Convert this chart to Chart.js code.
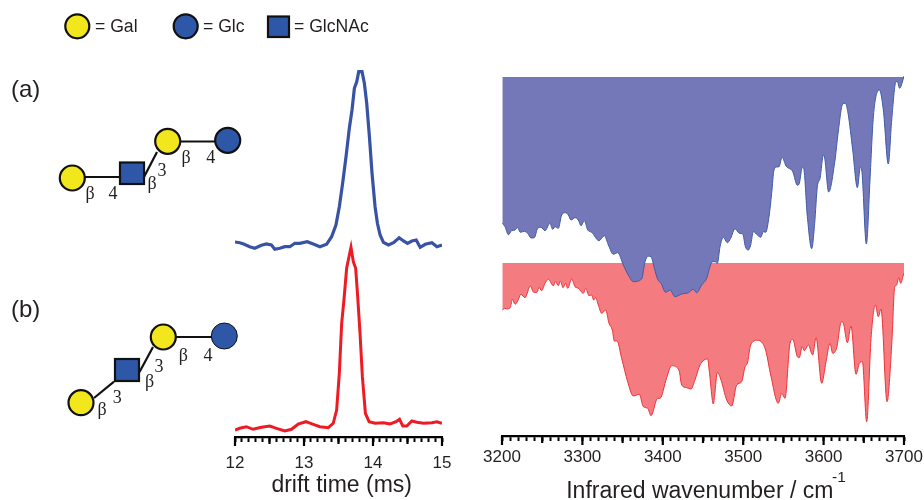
<!DOCTYPE html>
<html><head><meta charset="utf-8">
<script src="https://cdn.jsdelivr.net/npm/chart.js@4"></script>
<style>
html,body{margin:0;padding:0;background:#fff;width:924px;height:500px;overflow:hidden}
#wrap{position:relative;width:924px;height:500px;overflow:hidden;font-family:"Liberation Sans",Arial,sans-serif;color:#231f20}
#driftBox{position:absolute;left:175px;top:0;width:327px;height:520px}
#irBox{position:absolute;left:452px;top:0;width:520px;height:520px}
svg{position:absolute;left:0;top:0}
.sup{position:absolute;left:832px;top:467px;font-size:15.5px;line-height:20px}
</style></head><body>
<div id="wrap">
<div id="driftBox"><canvas id="drift"></canvas></div>
<div id="irBox"><canvas id="ir"></canvas></div>
<div class="sup">-1</div>
<svg width="924" height="500" font-family="Liberation Sans, Arial, sans-serif" fill="#231f20">
<g stroke="#111" stroke-width="2.2">
<line x1="85" y1="177" x2="119" y2="177"/><line x1="144" y1="177" x2="157" y2="152"/><line x1="181" y1="141.5" x2="215" y2="141.5"/>
<line x1="176" y1="337" x2="212" y2="337"/><line x1="139.5" y1="372" x2="153" y2="347"/><line x1="94" y1="398" x2="114" y2="381.7"/>
</g>
<g stroke="#111" stroke-width="2.2">
<circle cx="77.3" cy="26.3" r="12" fill="#f2e71c"/><circle cx="185.7" cy="26.3" r="12" fill="#2f57a8"/><rect x="268" y="16.5" width="21" height="20.5" fill="#2f57a8"/>
<circle cx="72.3" cy="178" r="12.5" fill="#f2e71c"/><rect x="120" y="162.5" width="24" height="21.5" fill="#2f57a8"/><circle cx="167.7" cy="141.3" r="12.5" fill="#f2e71c"/><circle cx="227.7" cy="140.3" r="12.5" fill="#2f57a8"/>
<circle cx="163.3" cy="337" r="12.5" fill="#f2e71c"/><rect x="115" y="359" width="24" height="22" fill="#2f57a8"/><circle cx="81" cy="402.7" r="12.5" fill="#f2e71c"/>
<circle cx="224.3" cy="336" r="13" fill="#2f57a8" stroke-width="1"/>
</g>
<g font-size="17.6" dominant-baseline="central">
<text x="95" y="26">= Gal</text><text x="203" y="26">= Glc</text><text x="294" y="26">= GlcNAc</text>
</g>
<g font-size="24" dominant-baseline="central">
<text x="11" y="88">(a)</text><text x="11" y="308">(b)</text>
</g>
<g font-family="Liberation Serif, Times New Roman, serif" font-size="18" text-anchor="middle" dominant-baseline="central">
<text x="90" y="193">β</text><text x="113" y="193">4</text><text x="152" y="183">β</text><text x="162" y="170">3</text><text x="186" y="157">β</text><text x="210.7" y="157">4</text>
<text x="102" y="409">β</text><text x="117.3" y="397.3">3</text><text x="149.7" y="380.7">β</text><text x="159" y="365.7">3</text><text x="183.3" y="355">β</text><text x="208" y="355">4</text>
</g>
</svg>
</div>
<script>
// Drift-time traces (ms, arbitrary offset intensity)
const driftBlueT=[12,12.068,12.126,12.213,12.286,12.383,12.455,12.528,12.577,12.649,12.722,12.795,12.867,12.94,13.047,13.134,13.231,13.328,13.4,13.463,13.512,13.56,13.609,13.657,13.696,13.73,13.764,13.793,13.841,13.875,13.909,13.948,13.986,14.03,14.064,14.103,14.151,14.224,14.297,14.379,14.442,14.5,14.563,14.626,14.684,14.757,14.854,14.926,15];
const driftBlueI=[195,194.3,193,190.3,188.7,191.7,193,192,187.7,188.7,190.3,190.3,193.7,193.7,195.3,193,190.3,192.7,200.3,212,230.3,253.7,280.3,308.7,327,348.7,355.3,365.3,365.3,353.7,333.7,300.3,263.7,230.3,213.7,202,194.7,192,194.3,199.3,196,193.7,196,197,189.7,192.7,194.3,190.3,192];
const driftRedT=[12,12.068,12.165,12.262,12.383,12.504,12.601,12.722,12.819,12.916,13.027,13.134,13.231,13.352,13.424,13.473,13.512,13.546,13.579,13.618,13.657,13.681,13.715,13.749,13.778,13.812,13.846,13.89,13.943,14.03,14.151,14.248,14.335,14.384,14.432,14.49,14.563,14.636,14.733,14.854,14.926,15];
const driftRedI=[7,8.7,10.3,7.7,9.7,11,8.7,6,7.7,13,15.3,12.7,10.3,9.3,13.7,27,63.7,113.7,137,168.7,182,189.7,175.3,168.7,140.3,103.7,60.3,23.7,15.3,13.7,14.3,13,15.3,17.7,11,11,16,14.7,13.7,14.3,15.3,13.7];
// Infrared spectra (cm-1, arbitrary offset intensity)
const irBlueW=[3200.4,3203.7,3207.9,3212,3216.2,3219.5,3222.8,3227.8,3231.9,3236.1,3240.2,3244.4,3248.5,3253.5,3259.7,3263,3265.9,3270.1,3274.2,3279.2,3282.5,3285.8,3290.8,3294.9,3298.3,3302.4,3306.6,3311.5,3320.6,3327.3,3332.3,3338.5,3343.9,3350.9,3357.1,3363.3,3373.7,3377.9,3382,3385.3,3389.5,3393.6,3397.8,3403.6,3409,3415.2,3423.5,3431.8,3438,3442.1,3448.3,3454.6,3458.7,3462,3465,3467.9,3471.2,3475.3,3480.3,3484.4,3489.8,3495.2,3499.4,3502.7,3506.4,3509.3,3512.6,3517.6,3521.8,3525.1,3528,3532.1,3535.4,3538.3,3541.7,3544.6,3548.3,3553.3,3561.6,3567.4,3569.8,3573.6,3575.2,3579.8,3585.2,3588.9,3592.2,3595.6,3599.7,3601.4,3606.3,3614.2,3618,3623.8,3627.1,3630.4,3636.2,3642,3645.7,3647.4,3653.2,3657.7,3661.9,3669.4,3674.3,3680.5,3684.7,3690.1,3691.7,3694.6,3697.5,3700];
const irBlueI=[212.7,209.3,201.3,205.3,206,208.3,203.7,204.7,202.7,198,198.3,207.7,208.7,205.3,212.7,206.7,209.3,207.7,221,223.3,221,216,218.3,216,210.3,215.3,206,203.7,195.3,200.3,191,181.7,183.3,171,161,154.3,157,174.3,179.7,179.3,167.7,156.7,152.7,143.7,146,139.3,142,143.3,146.7,143.3,151,157.7,169.3,174.3,174.3,172.7,189.3,198.7,193.3,197.7,207.3,202.7,202,189.3,186,191,204.3,201,198.7,204.3,203.7,219.3,242.7,266,269,269.3,278.7,270,264.3,250.7,252.7,268.7,267.7,219.3,187.3,212.7,249.3,257.7,281,277.7,244,276,302.7,332,332.7,322.7,286,248.3,268.7,266,192,256,319.3,346,326,272,316,354.3,354.3,347.7,352.7,360];
const irRedW=[3200.4,3203.7,3207,3210.4,3212.9,3216.2,3219.5,3223.6,3228.6,3235.2,3239.4,3243.5,3246,3249.3,3253.5,3257.6,3263.8,3266.7,3270.1,3272.6,3275.9,3279.2,3281.7,3286.7,3290.8,3294.9,3301.2,3304.1,3308.2,3311.5,3314,3316.5,3319.8,3324,3328.9,3333.1,3337.2,3339.7,3343,3348.8,3356.3,3363.3,3370.8,3375.8,3381.2,3385.3,3393.6,3396.5,3404.8,3411,3420.1,3423.5,3429.7,3435.1,3440,3446.3,3455.8,3457.9,3462.9,3464.5,3467.9,3472,3479.5,3485.7,3491.9,3498.1,3502.3,3505.2,3509.3,3517.6,3524.2,3528.4,3534.2,3543.7,3547.9,3552,3558.2,3561.6,3567.4,3569.8,3573.2,3576.1,3581,3586.4,3590.6,3597.6,3603,3608,3611.3,3616.3,3622.1,3624.6,3629.6,3634.1,3640.3,3644.5,3648.2,3653.6,3659,3664.4,3668.1,3671.4,3678.9,3684.7,3688.4,3690.9,3693.4,3695.9,3699.2,3700];
const irRedI=[126,127.7,127,128.7,136.7,131.7,135,141.7,138.3,150,143.7,143.7,148.7,145.3,152.7,156.7,150.3,154.3,150.3,155,148.3,152.7,147.7,157,149.3,147.7,142.7,147.7,140.3,141,136,138.3,131,122.7,126,112.7,106,95,95,77.7,54.3,40,41.7,29.3,27.7,20.3,37.7,37.7,58.3,70.3,66,51,48.3,47,56,71,77,64.3,32,41,63.7,57,36,30,51,54.3,69.3,72.7,91,95.7,92.7,84.3,61,32.7,42.7,37.7,92.7,96.7,79.3,78.3,89.3,85.3,91,81,98.3,52.7,74.3,92.7,82.7,88.3,114.3,112.7,93.3,110,61.7,72.7,74.3,14.3,97.7,131,119.3,127,34.3,91,148.7,151,158.3,152.7,161,162.7];
const irBlueTop=359, irRedTop=173;
const driftMajor=[12,13,14,15], driftMedium=[12.5,13.5,14.5];
const irMajor=[3200,3300,3400,3500,3600,3700], irMedium=[3250,3350,3450,3550,3650];
const pts=(xs,ys)=>xs.map((x,i)=>({x,y:ys[i]}));
const longTicks={id:'longTicks',afterDraw(c,a,o){
  const s=c.scales.x,g=c.ctx,base=s.top;
  g.save();g.strokeStyle='#000';g.lineWidth=2.2;
  const draw=(arr,len)=>arr.forEach(v=>{const p=s.getPixelForValue(v);g.beginPath();g.moveTo(p,base);g.lineTo(p,base+len);g.stroke();});
  draw(o.major,o.majorLen);draw(o.medium,o.mediumLen);g.restore();
}};
function xAxis(min,max,step,label,fn,pad,titleSize,titlePad,h){
  return {type:'linear',min,max,afterFit(s){s.height=h;},
    border:{display:true,color:'#000',width:2.2},
    grid:{drawOnChartArea:false,drawTicks:true,tickLength:5,tickColor:'#000',tickWidth:2},
    ticks:{stepSize:step,autoSkip:false,maxRotation:0,minRotation:0,padding:pad,color:'#231f20',font:{family:'"Liberation Sans",Arial,sans-serif',size:17},callback:fn},
    title:{display:true,text:label,color:'#231f20',font:{family:'"Liberation Sans",Arial,sans-serif',size:titleSize},padding:{top:0,bottom:titlePad}}};
}
const base=(padL,padR,ymax,x,major,medium)=>({responsive:true,maintainAspectRatio:false,animation:false,events:[],
  layout:{padding:{left:padL,right:padR,top:0,bottom:0}},
  plugins:{legend:{display:false},tooltip:{enabled:false},longTicks:{major,medium,majorLen:9,mediumLen:7}},
  elements:{point:{radius:0}},
  scales:{x,y:{display:false,min:0,max:ymax}}});
new Chart(document.getElementById('drift'),{type:'line',plugins:[longTicks],
  data:{datasets:[
    {label:'a',data:pts(driftBlueT,driftBlueI),borderColor:'#3953a4',borderWidth:3.2,tension:0,fill:false},
    {label:'b',data:pts(driftRedT,driftRedI),borderColor:'#ed1c24',borderWidth:3,tension:0,fill:false}]},
  options:base(60,60,437,xAxis(12,15,0.1,'\u00a0drift time (ms)',v=>Math.abs(v-Math.round(v))<1e-6?String(Math.round(v)):'',11,23,20.5,83),driftMajor,driftMedium)});
new Chart(document.getElementById('ir'),{type:'line',plugins:[longTicks],
  data:{datasets:[
    {label:'a',data:pts(irBlueW,irBlueI),borderColor:'#3d5ba9',borderWidth:1,backgroundColor:'#7578b8',cubicInterpolationMode:'monotone',fill:{value:irBlueTop}},
    {label:'b',data:pts(irRedW,irRedI),borderColor:'#ee3238',borderWidth:1,backgroundColor:'#f47b7f',cubicInterpolationMode:'monotone',fill:{value:irRedTop}}]},
  options:base(50,68,436,xAxis(3200,3700,10,'Infrared wavenumber / cm\u00a0',v=>v%100===0?String(v):'',6.4,23,14.5,84),irMajor,irMedium)});
</script>
</body></html>
